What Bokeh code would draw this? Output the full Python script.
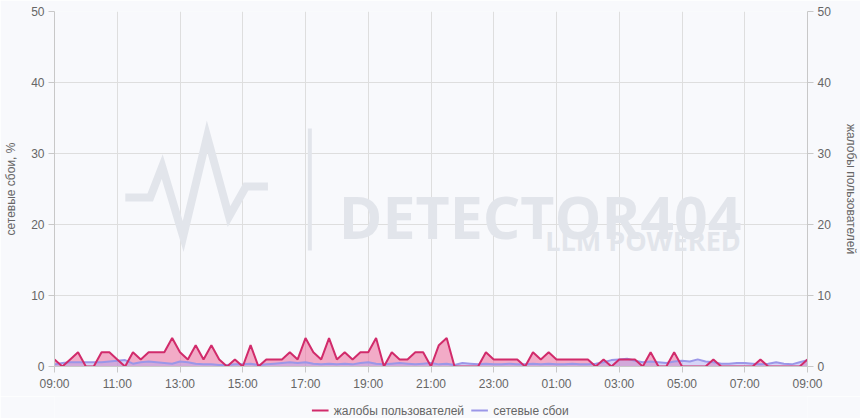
from datetime import datetime, timedelta
from bokeh.plotting import figure
from bokeh.layouts import column
from bokeh.models import (Range1d, LinearAxis, FixedTicker, DatetimeTickFormatter,
                          ColumnDataSource, Label, PolyAnnotation)
from bokeh.core.properties import value
from bokeh.embed import file_html
from bokeh.resources import INLINE

# ---- data (15-minute steps from 09:00 to 09:00 next day) ----
start = datetime(2024, 5, 1, 9, 0)
step_minutes = 15
complaints = [1, 0, 1, 2, 0, 0, 2, 2, 1, 0, 2, 1, 2, 2, 2, 4, 2, 1, 3, 1,
              3, 1, 0, 1, 0, 3, 0, 1, 1, 1, 2, 1, 4, 2, 1, 4, 1, 2, 1, 2,
              2, 4, 0, 2, 1, 1, 2, 2, 0, 3, 4, 0, 0, 0, 0, 2, 1, 1, 1, 1,
              0, 2, 1, 2, 1, 1, 1, 1, 1, 0, 1, 0, 1, 1, 1, 0, 2, 0, 0, 2,
              0, 0, 0, 0, 1, 0, 0, 0, 0, 0, 1, 0, 0, 0, 0, 0, 1]
network = [0.3, 0.5, 0.6, 0.6, 0.6, 0.6, 0.6, 0.7, 0.8, 0.9, 0.4, 0.6, 0.7, 0.6, 0.5, 0.4,
           0.7, 0.6, 0.4, 0.3, 0.3, 0.2, 0.2, 0.3, 0.3, 0.4, 0.2, 0.3, 0.4, 0.5, 0.6, 0.5,
           0.6, 0.4, 0.3, 0.4, 0.3, 0.4, 0.3, 0.5, 0.6, 0.4, 0.3, 0.4, 0.5, 0.4, 0.3, 0.4,
           0.5, 0.3, 0.4, 0.2, 0.5, 0.4, 0.3, 0.4, 0.3, 0.3, 0.4, 0.3, 0.3, 0.4, 0.3, 0.4,
           0.3, 0.3, 0.4, 0.3, 0.3, 0.4, 0.6, 0.9, 1.0, 1.1, 0.8, 0.6, 0.7, 0.6, 0.5, 0.7,
           0.8, 0.7, 1.0, 0.7, 0.6, 0.4, 0.4, 0.5, 0.5, 0.4, 0.3, 0.4, 0.6, 0.4, 0.3, 0.6, 0.9]
times = [start + timedelta(minutes=step_minutes * i) for i in range(len(complaints))]
tick_times = [start + timedelta(hours=2 * k) for k in range(13)]
y_ticks = [0, 10, 20, 30, 40, 50]
label_left = "сетевые сбои, %"
label_right = "жалобы пользователей"
legend_names = ["жалобы пользователей", "сетевые сбои"]

BG = "#f8f9fc"
PINK_LINE = "#d12b6b"
PINK_FILL = "#ec6b9a"
PURP_LINE = "#9b97e8"
PURP_FILL = "#aaa6f2"
WM = "#e2e5eb"
legend_colors = [PINK_LINE, PURP_LINE]

src = ColumnDataSource(dict(t=times, c=complaints, n=network, z=[0] * len(times)))

end = times[-1]
p = figure(x_axis_type="datetime", width=860, height=396,
           x_range=Range1d(start, end), y_range=Range1d(0, 50),
           output_backend="svg", toolbar_location=None,
           background_fill_color=BG, border_fill_color=BG,
           min_border_left=54, min_border_right=51, min_border_top=11, min_border_bottom=30)
p.outline_line_color = None
p.extra_y_ranges = {"right": Range1d(0, 50)}

# ---- watermark (decoration, page pixel -> data mapping) ----
FX0, FX1, FY0, FY1 = 54, 809, 366, 11
span_ms = (end - start).total_seconds() * 1000


def px_x(px):
    return (start + timedelta(milliseconds=(px - FX0) / (FX1 - FX0) * span_ms)).timestamp() * 1000


def px_y(py):
    return (FY0 - py) / (FY0 - FY1) * 50


pulse_px = [(125, 197), (150, 197), (162, 166), (183, 236), (207, 136), (229, 216), (246, 186), (268, 186)]
path = pulse_px + pulse_px[::-1]
p.add_layout(PolyAnnotation(xs=[px_x(a) for a, b in path], ys=[px_y(b) for a, b in path],
                            fill_alpha=0, line_color=WM, line_alpha=1, line_width=8,
                            line_join="miter"))
bar = [(310, 128), (310, 250), (310, 128)]
p.add_layout(PolyAnnotation(xs=[px_x(a) for a, b in bar], ys=[px_y(b) for a, b in bar],
                            fill_alpha=0, line_color=WM, line_alpha=1, line_width=4))
p.add_layout(Label(x=px_x(339), y=px_y(215), text="DETECTOR404",
                   text_font="Open Sans", text_font_style="bold", text_font_size="59px",
                   text_color=WM, text_baseline="alphabetic"))
p.add_layout(Label(x=px_x(546), y=px_y(240), text="LLM POWERED",
                   text_font="Open Sans", text_font_style="bold", text_font_size="27px",
                   text_color=WM, text_baseline="alphabetic"))

# ---- data marks ----
p.varea(x="t", y1="z", y2="c", source=src, fill_color=PINK_FILL, fill_alpha=0.55, y_range_name="right")
p.varea(x="t", y1="z", y2="n", source=src, fill_color=PURP_FILL, fill_alpha=0.45)
p.line(x="t", y="n", source=src, line_color=PURP_LINE, line_width=2)
p.line(x="t", y="c", source=src, line_color=PINK_LINE, line_width=2, y_range_name="right")

# ---- axes ----
p.xaxis.ticker = FixedTicker(ticks=[t.timestamp() * 1000 for t in tick_times])
p.xaxis.formatter = DatetimeTickFormatter(hours="%H:%M", days="%H:%M", minutes="%H:%M",
                                          hourmin="%H:%M", months="%H:%M", years="%H:%M")
p.yaxis.ticker = FixedTicker(ticks=y_ticks)
p.yaxis.axis_label = label_left

right_axis = LinearAxis(y_range_name="right", axis_label=label_right,
                        ticker=FixedTicker(ticks=y_ticks))
p.add_layout(right_axis, "right")

for ax in [p.xaxis[0], p.yaxis[0], right_axis]:
    ax.axis_line_color = "#c8c8c8"
    ax.major_tick_line_color = "#c8c8c8"
    ax.major_tick_out = 6
    ax.major_tick_in = 0
    ax.minor_tick_line_color = None
    ax.major_label_text_color = "#666666"
    ax.major_label_text_font = "Liberation Sans"
    ax.major_label_text_font_size = "12px"
    ax.axis_label_text_color = "#666666"
    ax.axis_label_text_font = "Liberation Sans"
    ax.axis_label_text_font_size = "12px"
    ax.axis_label_text_font_style = "normal"
    ax.major_label_standoff = 4
    ax.axis_label_standoff = 10

p.xgrid.ticker = p.xaxis[0].ticker
p.xgrid.grid_line_color = "#dedede"
p.ygrid.grid_line_color = "#dedede"

# ---- legend strip (separate small figure, pixel-like coordinates) ----
LEG_W, LEG_H = 860, 22
leg = figure(width=LEG_W, height=LEG_H, x_range=Range1d(0, LEG_W), y_range=Range1d(0, LEG_H),
             output_backend="svg", toolbar_location=None,
             x_axis_location=None, y_axis_location=None,
             background_fill_color=BG, border_fill_color=BG,
             min_border=0, min_border_left=0, min_border_right=0,
             min_border_top=0, min_border_bottom=0)
leg.outline_line_color = None
leg.xgrid.visible = False
leg.ygrid.visible = False

item_x0 = [294, 476]       # left edge of each legend swatch
swatch_w = 19
text_gap = 6
row_y = LEG_H - 14          # vertical centre of the legend row
leg_src = ColumnDataSource(dict(x0=item_x0, x1=[x + swatch_w for x in item_x0],
                                xt=[x + swatch_w + text_gap for x in item_x0],
                                y=[row_y] * 2, name=legend_names, color=legend_colors))
leg.segment(x0="x0", y0="y", x1="x1", y1="y", source=leg_src, line_color="color", line_width=2)
leg.text(x="xt", y="y", text="name", source=leg_src, text_font=value("Liberation Sans"),
         text_font_size="12px", text_color="#666666", text_baseline="middle", text_align="left")

layout = column(p, leg, spacing=0)

html = file_html(layout, INLINE)
html = html.replace("<body>", '<body style="background:%s">' % BG, 1)
open("out.html", "w").write(html)
